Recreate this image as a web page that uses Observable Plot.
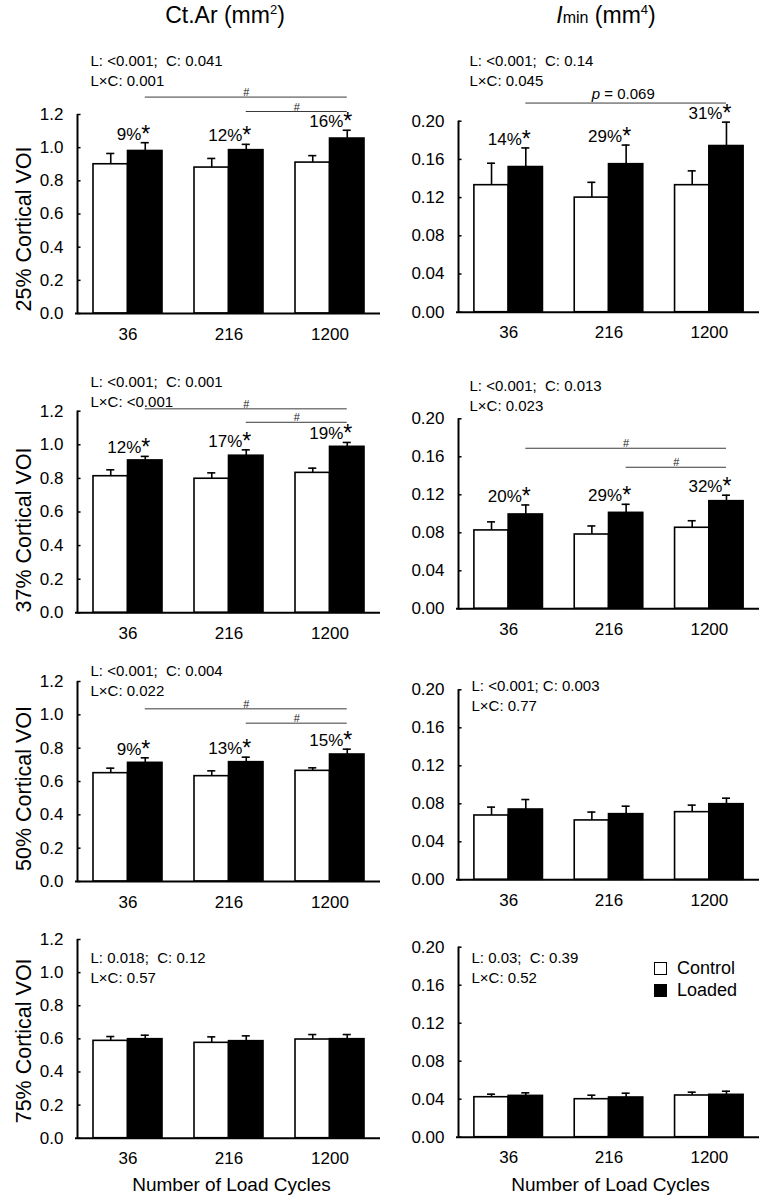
<!DOCTYPE html>
<html>
<head>
<meta charset="utf-8">
<script src="https://cdn.jsdelivr.net/npm/d3@7"></script>
<script src="https://cdn.jsdelivr.net/npm/@observablehq/plot@0.6"></script>
<style>
  body { margin: 0; background: #fff; }
  #fig { position: relative; width: 768px; height: 1200px; overflow: hidden;
         font-family: "Liberation Sans", Arial, Helvetica, sans-serif; color: #000; }
  .panel { position: absolute; }
  .coltitle { position: absolute; top: 4px; width: 300px; text-align: center;
              font-size: 23px; line-height: 22px; white-space: nowrap; }
  .coltitle sup { font-size: 13px; vertical-align: baseline; position: relative; top: -9px; }
  .coltitle .sub { font-size: 16px; }
  .legend { position: absolute; left: 654px; top: 958px; font-size: 18px; }
  .legend .row { display: flex; align-items: center; height: 21.5px; }
  .legend .sw { width: 13px; height: 13px; box-sizing: border-box; border: 1.6px solid #000; margin-right: 10px; }
</style>
</head>
<body>
<div id="fig"></div>
<script>
// ---------- data ----------
const cycles = ["36", "216", "1200"];
const regions = ["25%", "37%", "50%", "75%"];
const ctArTicks = [0, 0.2, 0.4, 0.6, 0.8, 1.0, 1.2];
const iMinTicks = [0, 0.04, 0.08, 0.12, 0.16, 0.20];
const legendLabels = ["Control", "Loaded"];

// Ct.Ar (mm²)
const ctAr25Control = [0.90, 0.88, 0.91];
const ctAr25ControlErr = [0.065, 0.055, 0.042];
const ctAr25Loaded = [0.98, 0.985, 1.055];
const ctAr25LoadedErr = [0.05, 0.035, 0.05];
const ctAr25Pct = ["9%", "12%", "16%"];
const ctAr25Stats = "L: <0.001;  C: 0.041\nL×C: 0.001";
const ctAr25Comps = [{from: 0, to: 2, y: 1.305, label: "#"}, {from: 1, to: 2, y: 1.218, label: "#"}];

const ctAr37Control = [0.813, 0.798, 0.833];
const ctAr37ControlErr = [0.038, 0.035, 0.028];
const ctAr37Loaded = [0.907, 0.935, 0.988];
const ctAr37LoadedErr = [0.024, 0.035, 0.026];
const ctAr37Pct = ["12%", "17%", "19%"];
const ctAr37Stats = "L: <0.001;  C: 0.001\nL×C: <0.001";
const ctAr37Comps = [{from: 0, to: 2, y: 1.214, label: "#"}, {from: 1, to: 2, y: 1.134, label: "#"}];

const ctAr50Control = [0.65, 0.632, 0.664];
const ctAr50ControlErr = [0.03, 0.032, 0.018];
const ctAr50Loaded = [0.712, 0.716, 0.762];
const ctAr50LoadedErr = [0.03, 0.03, 0.032];
const ctAr50Pct = ["9%", "13%", "15%"];
const ctAr50Stats = "L: <0.001;  C: 0.004\nL×C: 0.022";
const ctAr50Comps = [{from: 0, to: 2, y: 1.036, label: "#"}, {from: 1, to: 2, y: 0.950, label: "#"}];

const ctAr75Control = [0.588, 0.576, 0.596];
const ctAr75ControlErr = [0.026, 0.036, 0.03];
const ctAr75Loaded = [0.598, 0.586, 0.598];
const ctAr75LoadedErr = [0.024, 0.032, 0.028];
const ctAr75Stats = "L: 0.018;  C: 0.12\nL×C: 0.57";

// Imin (mm⁴)
const iMin25Control = [0.133, 0.120, 0.133];
const iMin25ControlErr = [0.023, 0.016, 0.015];
const iMin25Loaded = [0.152, 0.155, 0.174];
const iMin25LoadedErr = [0.020, 0.020, 0.025];
const iMin25Pct = ["14%", "29%", "31%"];
const iMin25Stats = "L: <0.001;  C: 0.14\nL×C: 0.045";
const iMin25Comps = [{from: 0, to: 2, y: 0.219, label: "p = 0.069"}];

const iMin37Control = [0.0825, 0.0782, 0.0853];
const iMin37ControlErr = [0.009, 0.009, 0.0074];
const iMin37Loaded = [0.0993, 0.101, 0.1133];
const iMin37LoadedErr = [0.010, 0.009, 0.0063];
const iMin37Pct = ["20%", "29%", "32%"];
const iMin37Stats = "L: <0.001;  C: 0.013\nL×C: 0.023";
const iMin37Comps = [{from: 0, to: 2, y: 0.169, label: "#"}, {from: 1, to: 2, y: 0.149, label: "#"}];

const iMin50Control = [0.0677, 0.0625, 0.0712];
const iMin50ControlErr = [0.0088, 0.0088, 0.0074];
const iMin50Loaded = [0.074, 0.0691, 0.0796];
const iMin50LoadedErr = [0.0105, 0.0084, 0.0063];
const iMin50Stats = "L: <0.001; C: 0.003\nL×C: 0.77";

const iMin75Control = [0.0421, 0.040, 0.0439];
const iMin75ControlErr = [0.0032, 0.0042, 0.0035];
const iMin75Loaded = [0.0435, 0.0418, 0.0446];
const iMin75LoadedErr = [0.0032, 0.0045, 0.0038];
const iMin75Stats = "L: 0.03;  C: 0.39\nL×C: 0.52";

// ---------- layout ----------
const FONT = '"Liberation Sans", Arial, Helvetica, sans-serif';
const rowsL = [{top: 0, bottom: 345}, {top: 345, bottom: 650}, {top: 650, bottom: 915}, {top: 915, bottom: 1200}];
const colsL = [
  {left: 0, axisX: 77, endX: 380, yMax: 1.2, ticks: ctArTicks, fmt: ".1f"},
  {left: 384, axisX: 458, endX: 759, yMax: 0.2, ticks: iMinTicks, fmt: ".2f"}
];
const panels = [
  {col: 0, row: 0, yTop: 114, y0: 313, sx: 90, sy: 85, tdy: 15,
   control: ctAr25Control, controlErr: ctAr25ControlErr, loaded: ctAr25Loaded, loadedErr: ctAr25LoadedErr,
   pct: ctAr25Pct, stats: ctAr25Stats, comps: ctAr25Comps},
  {col: 1, row: 0, yTop: 120.7, y0: 311.7, sx: 469, sy: 85,
   control: iMin25Control, controlErr: iMin25ControlErr, loaded: iMin25Loaded, loadedErr: iMin25LoadedErr,
   pct: iMin25Pct, stats: iMin25Stats, comps: iMin25Comps},
  {col: 0, row: 1, yTop: 410.7, y0: 612.3, sx: 90, sy: 406, tdy: 18,
   control: ctAr37Control, controlErr: ctAr37ControlErr, loaded: ctAr37Loaded, loadedErr: ctAr37LoadedErr,
   pct: ctAr37Pct, stats: ctAr37Stats, comps: ctAr37Comps},
  {col: 1, row: 1, yTop: 418.3, y0: 608.3, sx: 469, sy: 410,
   control: iMin37Control, controlErr: iMin37ControlErr, loaded: iMin37Loaded, loadedErr: iMin37LoadedErr,
   pct: iMin37Pct, stats: iMin37Stats, comps: iMin37Comps},
  {col: 0, row: 2, yTop: 681, y0: 881, sx: 90, sy: 695, tdy: 7,
   control: ctAr50Control, controlErr: ctAr50ControlErr, loaded: ctAr50Loaded, loadedErr: ctAr50LoadedErr,
   pct: ctAr50Pct, stats: ctAr50Stats, comps: ctAr50Comps},
  {col: 1, row: 2, yTop: 689.3, y0: 879.3, sx: 471, sy: 710,
   control: iMin50Control, controlErr: iMin50ControlErr, loaded: iMin50Loaded, loadedErr: iMin50LoadedErr,
   pct: null, stats: iMin50Stats, comps: []},
  {col: 0, row: 3, yTop: 939, y0: 1137.7, sx: 90, sy: 982, tdy: 2,
   control: ctAr75Control, controlErr: ctAr75ControlErr, loaded: ctAr75Loaded, loadedErr: ctAr75LoadedErr,
   pct: null, stats: ctAr75Stats, comps: []},
  {col: 1, row: 3, yTop: 946.7, y0: 1136.7, sx: 471, sy: 982,
   control: iMin75Control, controlErr: iMin75ControlErr, loaded: iMin75Loaded, loadedErr: iMin75LoadedErr,
   pct: null, stats: iMin75Stats, comps: []}
];

const half = 0.3416;            // bar width in group-step units
const cx = (i, g) => i + 0.5 + (g === "Loaded" ? half / 2 : -half / 2);
const nb = s => s.replace(/  /g, " \u00a0");

const fig = document.getElementById("fig");

function makePanel(p) {
  const L = colsL[p.col], R = rowsL[p.row];
  const ctrl = cycles.map((c, i) => ({i, group: "Control", value: p.control[i], err: p.controlErr[i]}));
  const load = cycles.map((c, i) => ({i, group: "Loaded", value: p.loaded[i], err: p.loadedErr[i], pct: p.pct ? p.pct[i] : null}));
  const all = ctrl.concat(load);
  const sw = 1.6;
  const marks = [
    Plot.rect(ctrl, {x1: d => d.i + 0.5 - half, x2: d => d.i + 0.5, y1: 0, y2: "value", fill: "white", stroke: "black", strokeWidth: sw}),
    Plot.rect(load, {x1: d => d.i + 0.5, x2: d => d.i + 0.5 + half, y1: 0, y2: "value", fill: "black", stroke: "black", strokeWidth: sw}),
    Plot.ruleX(all, {x: d => cx(d.i, d.group), y1: "value", y2: d => d.value + d.err, stroke: "black", strokeWidth: sw}),
    Plot.ruleY(all, {y: d => d.value + d.err, x1: d => cx(d.i, d.group) - 0.04, x2: d => cx(d.i, d.group) + 0.04, stroke: "black", strokeWidth: sw}),
    Plot.ruleY(L.ticks, {y: d => d, x1: 0, x2: 0.035, stroke: "black", strokeWidth: 1.5}),
    Plot.ruleX([0], {y1: 0, y2: L.yMax, stroke: "black", strokeWidth: 2}),
    Plot.ruleY([0], {x1: -0.02, x2: 3, stroke: "black", strokeWidth: 2}),
    Plot.axisY({ticks: L.ticks, tickSize: 0, tickPadding: 14, tickFormat: d3.format(L.fmt), fontSize: 17, label: null}),
    Plot.axisX({ticks: [0.5, 1.5, 2.5], tickSize: 0, tickPadding: 14, tickFormat: d => cycles[Math.floor(d)], fontSize: 17, label: null}),
    Plot.text([nb(p.stats)], {text: d => d, frameAnchor: "top-left", dx: p.sx - L.axisX, dy: p.sy - p.yTop,
      textAnchor: "start", lineAnchor: "bottom", lineHeight: 1.27, fontSize: 15})
  ];
  if (p.pct) {
    const lab = load.filter(d => d.pct);
    marks.push(
      Plot.text(lab, {x: d => cx(d.i, "Loaded"), y: d => d.value + d.err, text: "pct", textAnchor: "end", lineAnchor: "bottom", dx: -4, dy: -3, fontSize: 17}),
      Plot.text(lab, {x: d => cx(d.i, "Loaded"), y: d => d.value + d.err, text: () => "*", textAnchor: "start", lineAnchor: "bottom", dx: -4, dy: -1, fontSize: 23})
    );
  }
  if (p.comps.length) {
    const mid = d => (cx(d.from, "Loaded") + cx(d.to, "Loaded")) / 2;
    marks.push(
      Plot.ruleY(p.comps, {y: "y", x1: d => cx(d.from, "Loaded"), x2: d => cx(d.to, "Loaded"), stroke: "#3a3a3a", strokeWidth: 1}),
      Plot.text(p.comps.filter(d => d.label === "#"), {x: mid, y: "y", text: "label", lineAnchor: "bottom", dy: -1, fontSize: 11, fill: "#222"})
    );
    const pc = p.comps.filter(d => d.label.startsWith("p"));
    if (pc.length) {
      marks.push(
        Plot.text(pc, {x: mid, y: "y", text: () => "p", fontStyle: "italic", textAnchor: "end", lineAnchor: "bottom", dx: -26, dy: -4, fontSize: 15}),
        Plot.text(pc, {x: mid, y: "y", text: d => "\u00a0" + d.label.slice(2), textAnchor: "start", lineAnchor: "bottom", dx: -26, dy: -4, fontSize: 15})
      );
    }
  }
  if (p.col === 0) {
    marks.push(Plot.text([`${regions[p.row]} Cortical VOI`], {text: d => d, frameAnchor: "left", dx: -47, dy: p.tdy,
      rotate: -90, textAnchor: "middle", lineAnchor: "bottom", fontSize: 21.5}));
  }
  if (p.row === 3) {
    marks.push(Plot.text(["Number of Load Cycles"], {text: d => d, frameAnchor: "bottom", dx: p.col === 0 ? 2.5 : 1.5,
      dy: 1190 - p.y0, lineAnchor: "bottom", fontSize: 19}));
  }
  const chart = Plot.plot({
    width: 384,
    height: R.bottom - R.top,
    marginLeft: L.axisX - L.left,
    marginRight: L.left + 384 - L.endX,
    marginTop: p.yTop - R.top,
    marginBottom: R.bottom - p.y0,
    x: {type: "linear", domain: [0, 3]},
    y: {domain: [0, L.yMax]},
    style: {fontFamily: FONT, fontSize: "16px", background: "transparent", overflow: "visible", color: "black"},
    marks
  });
  const wrap = document.createElement("div");
  wrap.className = "panel";
  wrap.style.left = L.left + "px";
  wrap.style.top = R.top + "px";
  wrap.appendChild(chart);
  fig.appendChild(wrap);
}
panels.forEach(makePanel);

// column titles
const t1 = document.createElement("div");
t1.className = "coltitle"; t1.style.left = "75px";
t1.innerHTML = "Ct.Ar (mm<sup>2</sup>)";
fig.appendChild(t1);
const t2 = document.createElement("div");
t2.className = "coltitle"; t2.style.left = "456px";
t2.innerHTML = "<i>I</i><span class='sub'>min</span> (mm<sup>4</sup>)";
fig.appendChild(t2);

// legend
const lg = document.createElement("div");
lg.className = "legend";
lg.innerHTML = legendLabels.map((l, i) =>
  `<div class="row"><span class="sw" style="background:${i === 0 ? "#fff" : "#000"}"></span><span>${l}</span></div>`).join("");
fig.appendChild(lg);
</script>
</body>
</html>
